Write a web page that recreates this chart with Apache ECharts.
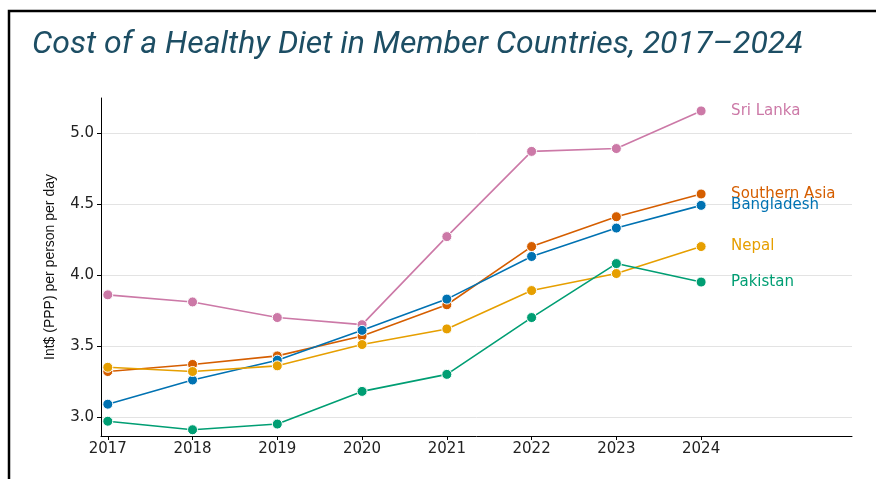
<!DOCTYPE html>
<html>
<head>
<meta charset="utf-8">
<script src="https://cdn.jsdelivr.net/npm/echarts@6/dist/echarts.min.js"></script>
<style>
html,body{margin:0;padding:0;background:#fff;}
#main{width:876px;height:479px;}
</style>
</head>
<body>
<div id="main"></div>
<script>
var years = [2017, 2018, 2019, 2020, 2021, 2022, 2023, 2024];
var sriLanka = [3.86, 3.81, 3.70, 3.65, 4.27, 4.87, 4.89, 5.155];
var southernAsia = [3.32, 3.37, 3.43, 3.57, 3.79, 4.20, 4.41, 4.57];
var bangladesh = [3.09, 3.26, 3.40, 3.61, 3.83, 4.13, 4.33, 4.49];
var nepal = [3.35, 3.32, 3.36, 3.51, 3.62, 3.89, 4.01, 4.20];
var pakistan = [2.97, 2.91, 2.95, 3.18, 3.30, 3.70, 4.08, 3.95];
var yTicks = [3.0, 3.5, 4.0, 4.5, 5.0];

var ec_main = echarts.init(document.getElementById('main'));

function pairs(vals) {
	return years.map(function (y, i) { return [y, vals[i]]; });
}
function makeSeries(name, vals, color) {
	return {
		name: name,
		type: 'line',
		data: pairs(vals),
		symbol: 'circle',
		symbolSize: 10,
		showSymbol: true,
		lineStyle: { color: color, width: 1.6 },
		itemStyle: { color: color, borderColor: '#fff', borderWidth: 1 },
		endLabel: {
			show: true,
			formatter: name,
			color: color,
			fontSize: 15,
			fontFamily: 'DejaVu Sans, sans-serif',
			distance: 30
		},
		emphasis: { disabled: true },
		z: 3
	};
}

var option = {
	animation: false,
	title: {
		text: 'Cost of a Healthy Diet in Member Countries, 2017\u20132024',
		left: 27,
		top: 24,
		textStyle: {
			color: '#1d4e64',
			fontSize: 32,
			fontStyle: 'italic',
			fontWeight: 'normal',
			fontFamily: 'Roboto, sans-serif'
		}
	},
	graphic: [{
		type: 'polyline',
		shape: { points: [[9, 479], [9, 11], [876, 11]] },
		style: { stroke: '#000', lineWidth: 2.5, fill: null }
	}],
	grid: { left: 101, right: 24, top: 98, bottom: 43 },
	xAxis: {
		type: 'value',
		min: 2016.92,
		max: 2025.78,
		axisLine: { show: true, lineStyle: { color: '#000', width: 1 } },
		axisTick: { show: true, customValues: years, length: 4, lineStyle: { color: '#000' } },
		axisLabel: {
			customValues: years,
			color: '#222',
			fontSize: 15,
			fontFamily: 'DejaVu Sans, sans-serif',
			margin: 6,
			formatter: function (v) { return String(v); }
		},
		splitLine: { show: false }
	},
	yAxis: {
		type: 'value',
		min: 2.866,
		max: 5.246,
		name: 'Int$ (PPP) per person per day',
		nameLocation: 'middle',
		nameGap: 44,
		nameTextStyle: {
			color: '#111',
			fontSize: 14,
			fontFamily: 'Liberation Sans Narrow, Liberation Sans, sans-serif'
		},
		axisLine: { show: true, lineStyle: { color: '#000', width: 1 } },
		axisTick: { show: true, customValues: yTicks, length: 4, lineStyle: { color: '#000' } },
		axisLabel: {
			customValues: yTicks,
			color: '#222',
			fontSize: 15,
			fontFamily: 'DejaVu Sans, sans-serif',
			margin: 7,
			formatter: function (v) { return v.toFixed(1); }
		},
		splitLine: { show: true, lineStyle: { color: '#e3e3e3', width: 1 } }
	},
	series: [
		makeSeries('Sri Lanka', sriLanka, '#CC79A7'),
		makeSeries('Southern Asia', southernAsia, '#D55E00'),
		makeSeries('Bangladesh', bangladesh, '#0072B2'),
		makeSeries('Nepal', nepal, '#E69F00'),
		makeSeries('Pakistan', pakistan, '#009E73')
	]
};
ec_main.setOption(option);
</script>
</body>
</html>
